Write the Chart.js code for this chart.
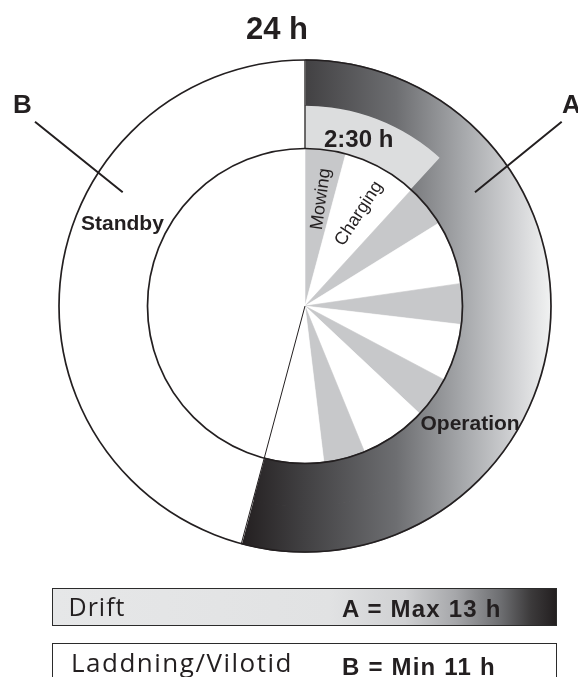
<!DOCTYPE html>
<html><head><meta charset="utf-8">
<script src="https://cdn.jsdelivr.net/npm/chart.js@4.4.1/dist/chart.umd.min.js"></script>
<style>
html,body{margin:0;padding:0;background:#fff;}
#wrap{position:relative;width:578px;height:677px;overflow:hidden;background:#fff;}
#c{position:absolute;left:0;top:0;}
.t{position:absolute;white-space:nowrap;line-height:1;color:#231f20;font-family:"Liberation Sans",Arial,sans-serif;}
.b{font-weight:bold;}
.os{font-family:"Open Sans",sans-serif;font-weight:normal;letter-spacing:1px;}
.lg{letter-spacing:1.2px;}
.leg{position:absolute;box-sizing:border-box;border:1.3px solid #2b2b2b;}
</style></head>
<body><div id="wrap">
<div class="leg" id="drift" style="left:52px;top:587.5px;width:505px;height:38.5px;background:linear-gradient(to right,#e6e7e8 0%,#e1e2e3 55%,#cfd0d2 70%,#a6a7aa 80%,#6d6e71 89%,#3c3a3b 95%,#231f20 100%);"></div>
<div class="leg" id="ladd" style="left:52px;top:642.5px;width:505px;height:60px;background:#fff;"></div>
<canvas id="c" width="578" height="677"></canvas>
<div class="t b" style="left:246px;top:12.5px;font-size:31px;">24 h</div>
<div class="t b" style="left:13px;top:90.5px;font-size:26px;">B</div>
<div class="t b" style="left:562px;top:90.5px;font-size:26px;">A</div>
<div class="t b" style="left:324px;top:127px;font-size:24px;">2:30 h</div>
<div class="t b" style="left:81px;top:212.2px;font-size:21px;">Standby</div>
<div class="t b" style="left:420.5px;top:412.2px;font-size:21px;">Operation</div>
<div class="t" style="left:320px;top:199.3px;font-size:18px;transform:translate(-50%,-50%) rotate(-82deg);">Mowing</div>
<div class="t" style="left:357.5px;top:213.3px;font-size:18px;transform:translate(-50%,-50%) rotate(-57deg);">Charging</div>
<div class="t os" style="left:68.5px;top:593.5px;font-size:25px;">Drift</div>
<div class="t b lg" style="left:342px;top:597.2px;font-size:24px;">A = Max 13 h</div>
<div class="t os" style="left:71px;top:648.6px;font-size:26px;letter-spacing:1.5px;">Laddning/Vilotid</div>
<div class="t b lg" style="left:342px;top:654.7px;font-size:24px;">B = Min 11 h</div>
</div>
<script>
// ---- data (hours of a 24 h day) ----
const totalHours = 24;
const ringLabels = ['A: Operation', 'B: Standby'];
const ringHours = [13, 11];                           // A = max 13 h, B = min 11 h
const mowingHours = [1.0, 1.05, 1.0, 1.02, 1.02];     // grey wedges
const chargingHours = [1.83, 1.57, 1.41, 1.64, 1.46]; // white wedges
const firstCycleHours = 2.83;                         // "2:30 h" wedge (first mowing + charging)

// ---- colours ----
const INK = '#231f20';
const MOW_GREY = '#c7c8ca';
const CYCLE_GREY = '#dcddde';

let gradCache = null, gradKey = '';
function ringGradient(chart) {
  const a = chart.chartArea;
  if (!a) return '#808285';
  const key = a.left + ',' + a.right + ',' + a.top + ',' + a.bottom;
  if (gradCache && gradKey === key) return gradCache;
  const cx = (a.left + a.right) / 2;
  const r = Math.min(a.right - a.left, a.bottom - a.top) / 2;
  const x0 = cx + r * Math.sin(2 * Math.PI * ringHours[0] / totalHours);
  const g = chart.ctx.createLinearGradient(x0, 0, cx + r, 0);
  g.addColorStop(0, '#231f20');
  g.addColorStop(0.2, '#414042');
  g.addColorStop(0.5, '#6d6e71');
  g.addColorStop(0.72, '#a7a9ac');
  g.addColorStop(0.9, '#d6d7d9');
  g.addColorStop(1, '#f1f2f2');
  gradCache = g; gradKey = key;
  return g;
}

const innerData = [], innerColors = [], innerLabels = [];
mowingHours.forEach((m, i) => {
  innerData.push(m); innerColors.push(MOW_GREY); innerLabels.push('Mowing');
  innerData.push(chargingHours[i]); innerColors.push('#ffffff'); innerLabels.push('Charging');
});
innerData.push(ringHours[1]); innerColors.push('#ffffff'); innerLabels.push('Standby');

const outlinePlugin = {
  id: 'outlines',
  afterDatasetsDraw(chart) {
    const ctx = chart.ctx;
    const A = chart.getDatasetMeta(0).data[0];
    const inner = chart.getDatasetMeta(2).data[0];
    const x = A.x, y = A.y, R = A.outerRadius, r = inner.outerRadius;
    ctx.save();
    ctx.strokeStyle = INK;
    ctx.lineWidth = 1.7;
    ctx.beginPath(); ctx.arc(x, y, R, 0, Math.PI * 2); ctx.stroke();
    ctx.beginPath(); ctx.arc(x, y, r, 0, Math.PI * 2); ctx.stroke();
    const a0 = A.startAngle, a1 = A.endAngle;
    ctx.lineWidth = 1.3;
    ctx.beginPath();
    ctx.moveTo(x + r * Math.cos(a0), y + r * Math.sin(a0));
    ctx.lineTo(x + R * Math.cos(a0), y + R * Math.sin(a0));
    ctx.stroke();
    ctx.lineWidth = 1;
    ctx.beginPath();
    ctx.moveTo(x, y);
    ctx.lineTo(x + R * Math.cos(a1), y + R * Math.sin(a1));
    ctx.stroke();
    // leader lines for A and B
    ctx.lineWidth = 2;
    ctx.beginPath();
    ctx.moveTo(x + 256.7, y - 184.3); ctx.lineTo(x + 170, y - 113.7);
    ctx.moveTo(x - 270, y - 184.3); ctx.lineTo(x - 182.3, y - 113.7);
    ctx.stroke();
    ctx.restore();
  }
};

const bw = 1.5;
new Chart(document.getElementById('c'), {
  type: 'doughnut',
  data: {
    labels: innerLabels,
    datasets: [
      { label: 'Outer', data: ringHours, weight: 45,
        backgroundColor: (c) => c.dataIndex === 0 ? ringGradient(c.chart) : '#ffffff',
        borderColor: (c) => c.dataIndex === 0 ? ringGradient(c.chart) : '#ffffff',
        borderWidth: bw },
      { label: 'Cycle', data: [firstCycleHours, ringHours[0] - firstCycleHours, ringHours[1]], weight: 43.5,
        backgroundColor: (c) => c.dataIndex === 0 ? CYCLE_GREY : (c.dataIndex === 1 ? ringGradient(c.chart) : '#ffffff'),
        borderColor: (c) => c.dataIndex === 0 ? CYCLE_GREY : (c.dataIndex === 1 ? ringGradient(c.chart) : '#ffffff'),
        borderWidth: (c) => c.dataIndex === 1 ? bw : 0.6 },
      { label: 'Activity', data: innerData, weight: 157.5,
        backgroundColor: innerColors, borderColor: innerColors, borderWidth: 0.6 }
    ]
  },
  options: {
    responsive: false,
    animation: false,
    radius: 246,
    cutout: 0,
    rotation: 0,
    circumference: 360,
    layout: { padding: { left: 59, top: 60, right: 27, bottom: 125 } },
    plugins: { legend: { display: false }, tooltip: { enabled: false }, title: { display: false } },
    events: []
  },
  plugins: [outlinePlugin]
});
</script>
</body></html>
